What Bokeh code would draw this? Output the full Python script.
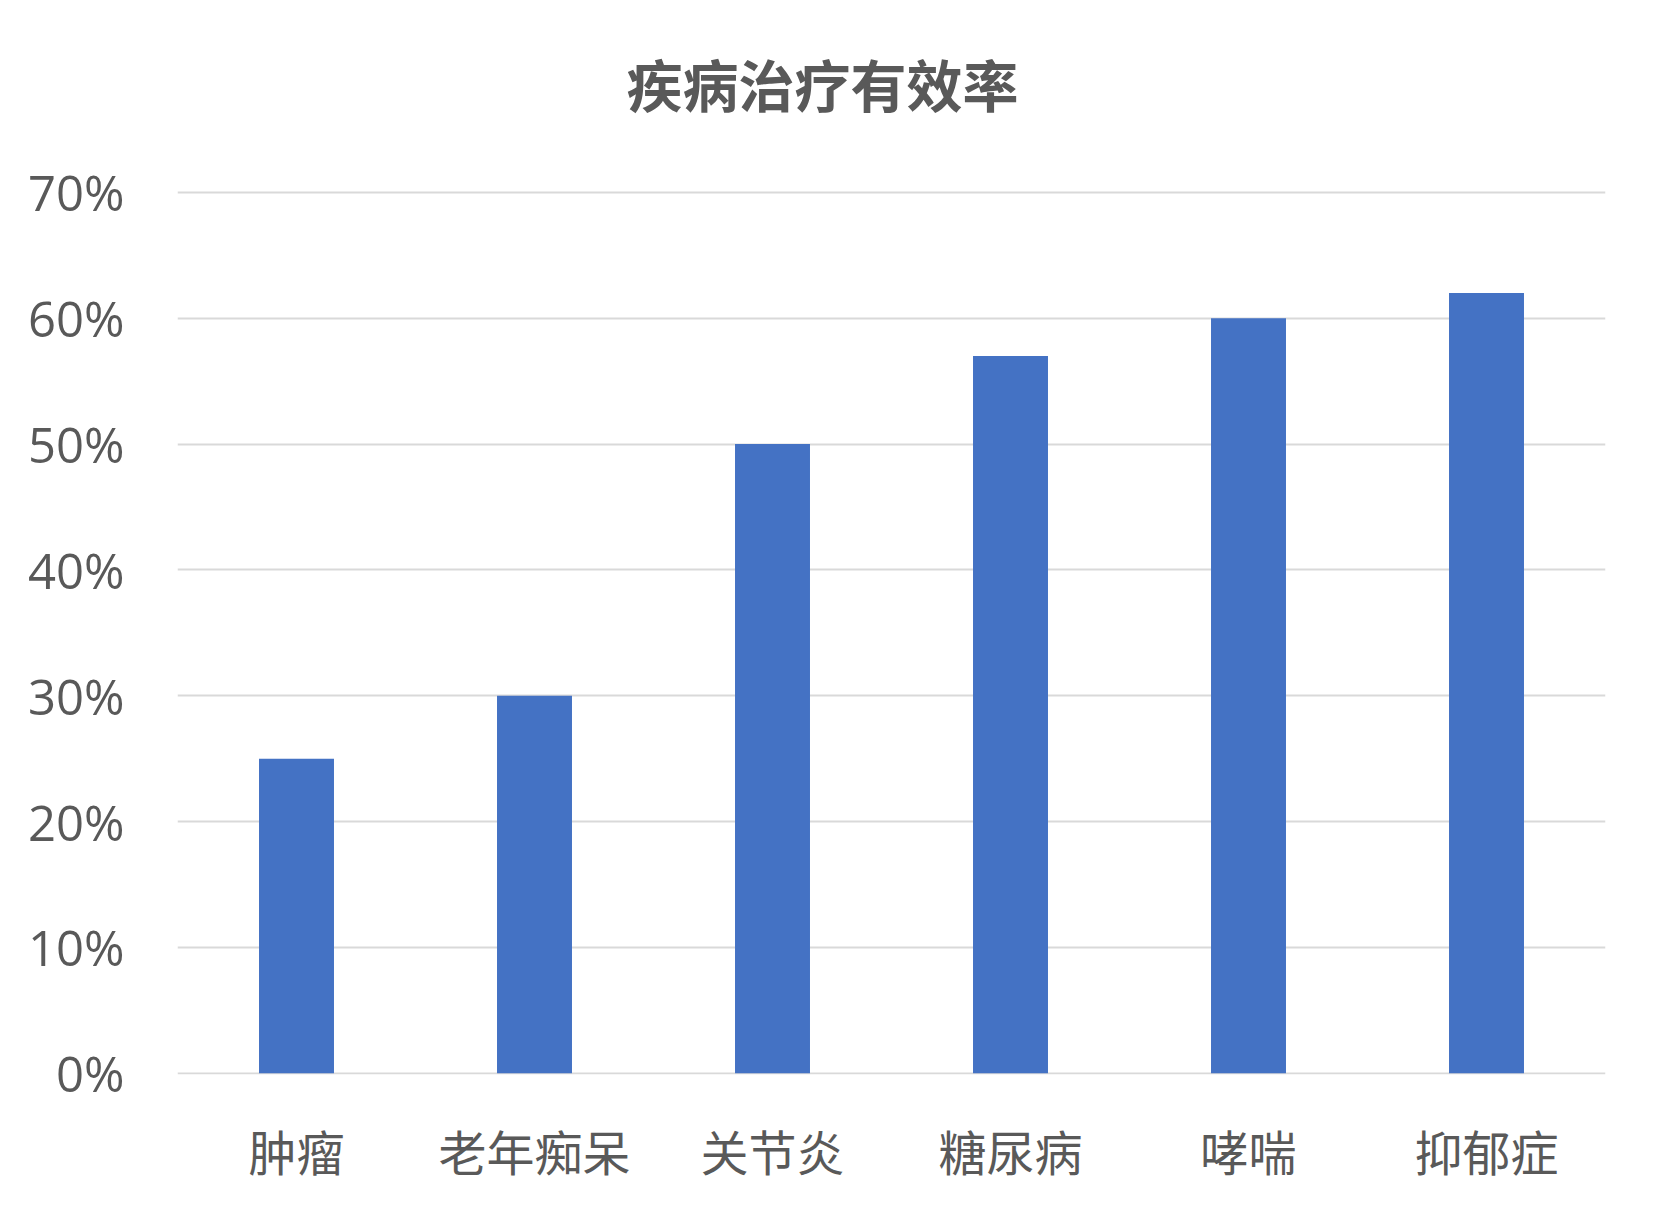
from bokeh.plotting import figure
from bokeh.models import Range1d, NumeralTickFormatter, FixedTicker, ColumnDataSource, Title
from bokeh.embed import file_html
from bokeh.resources import INLINE

title_text = "疾病治疗有效率"
categories = ["肿瘤", "老年痴呆", "关节炎", "糖尿病", "哮喘", "抑郁症"]
rates = [0.25, 0.30, 0.50, 0.57, 0.60, 0.62]
y_ticks = [0.0, 0.1, 0.2, 0.3, 0.4, 0.5, 0.6, 0.7]

source = ColumnDataSource(data=dict(cat=categories, rate=rates))

W, H = 1640, 1204
p = figure(
    x_range=categories,
    y_range=Range1d(-0.001, 0.7396),
    width=W, height=H,
    output_backend="svg",
    toolbar_location=None,
    min_border_left=177, min_border_right=35,
    min_border_top=142, min_border_bottom=130,
    background_fill_color="white", border_fill_color="white",
    outline_line_color=None,
)

p.vbar(x="cat", top="rate", width=0.315, source=source,
       fill_color="#4472C4", line_color=None)

# grid
p.xgrid.grid_line_color = None
p.ygrid.grid_line_color = "#D9D9D9"
p.ygrid.grid_line_width = 2
p.ygrid.ticker = FixedTicker(ticks=y_ticks)

# y axis
p.yaxis.ticker = FixedTicker(ticks=y_ticks)
p.yaxis.formatter = NumeralTickFormatter(format="0%")
p.yaxis.axis_line_color = None
p.yaxis.major_tick_line_color = None
p.yaxis.minor_tick_line_color = None
p.yaxis.major_tick_out = 0
p.yaxis.major_tick_in = 0
p.yaxis.major_label_standoff = 53
p.yaxis.major_label_text_font = "Open Sans"
p.yaxis.major_label_text_font_size = "49px"
p.yaxis.major_label_text_color = "#595959"

# x axis
p.xaxis.axis_line_color = None
p.xaxis.major_tick_line_color = None
p.xaxis.minor_tick_line_color = None
p.xaxis.major_tick_out = 0
p.xaxis.major_tick_in = 0
p.xaxis.major_label_standoff = 40
p.xaxis.major_label_text_font = "Noto Sans CJK SC"
p.xaxis.major_label_text_font_size = "48px"
p.xaxis.major_label_text_color = "#595959"

# title
p.add_layout(Title(text=title_text, align="left", offset=449, standoff=40,
                   vertical_align="bottom",
                   text_font="Noto Sans CJK SC", text_font_style="bold",
                   text_font_size="56px", text_color="#595959"), "above")

open("out.html", "w").write(file_html(p, INLINE))
